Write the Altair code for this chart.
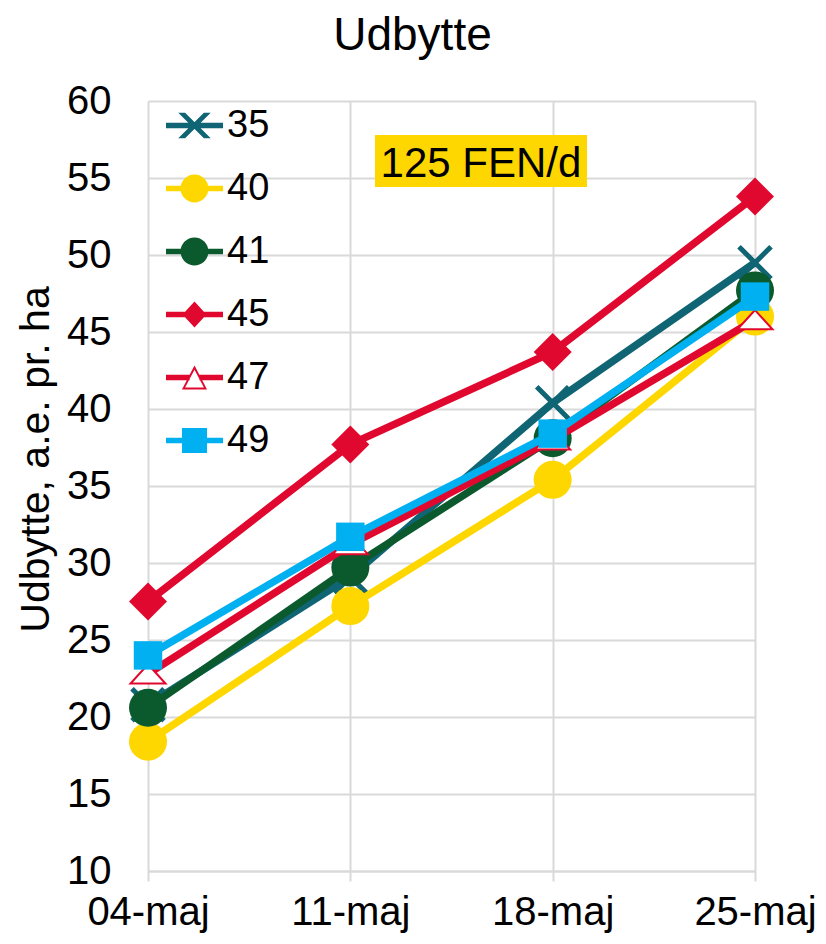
import altair as alt
import pandas as pd

dates = ["04-maj", "11-maj", "18-maj", "25-maj"]
series = ["35", "40", "41", "45", "47", "49"]
v35 = [20.8, 29.1, 40.4, 49.5]
v40 = [18.4, 27.2, 35.4, 46.0]
v41 = [20.6, 29.7, 38.1, 47.7]
v45 = [27.5, 37.7, 43.7, 53.8]
v47 = [22.8, 31.2, 38.0, 45.8]
v49 = [24.0, 31.7, 38.4, 47.3]
values = {"35": v35, "40": v40, "41": v41, "45": v45, "47": v47, "49": v49}
y_ticks = [10, 15, 20, 25, 30, 35, 40, 45, 50, 55, 60]
title_text = "Udbytte"
y_title = "Udbytte, a.e. pr. ha"
note_text = "125 FEN/d"

colors = {"35": "#0F6573", "40": "#FFD700", "41": "#0B5A2E",
          "45": "#E1082F", "47": "#E1082F", "49": "#00B0F0"}

FONT = "Liberation Sans"

rows = []
for s in series:
    for d, v in zip(dates, values[s]):
        rows.append({"date": d, "series": s, "value": v})
df = pd.DataFrame(rows)

x_enc = alt.X("date:O", sort=dates, scale=alt.Scale(type="point", padding=0),
              axis=alt.Axis(title=None, labelAngle=0, labelFontSize=40, labelFont=FONT,
                            labelColor="black", grid=True, gridColor="#D9D9D9", gridWidth=2,
                            domainColor="#D9D9D9", domainWidth=2, tickColor="#D9D9D9",
                            tickWidth=2, tickSize=10, labelPadding=11))
y_enc = alt.Y("value:Q", scale=alt.Scale(domain=[10, 60], nice=False, zero=False),
              axis=alt.Axis(values=y_ticks, title=y_title, titleFontSize=41, titleFont=FONT,
                            titleFontWeight="normal", titleColor="black", titleAngle=-90,
                            titleX=-100, titleY=358, titleAlign="center",
                            titleBaseline="alphabetic",
                            labelFontSize=40, labelFont=FONT, labelColor="black",
                            labelPadding=37, ticks=False, domain=False,
                            grid=True, gridColor="#D9D9D9", gridWidth=2))

base = alt.Chart(df).encode(x=x_enc, y=y_enc)

shapes_plot = {
    "35": dict(shape="M-1,-1L1,1M-1,1L1,-1", filled=False, stroke=colors["35"], strokeWidth=5, size=1024),
    "40": dict(shape="circle", filled=True, color=colors["40"], size=1444),
    "41": dict(shape="circle", filled=True, color=colors["41"], size=1444),
    "45": dict(shape="diamond", filled=True, color=colors["45"], size=1444),
    "47": dict(shape="M0,-0.55L1,0.55L-1,0.55Z", filled=False, fill="white", stroke=colors["47"], strokeWidth=2, size=1225),
    "49": dict(shape="square", filled=True, color=colors["49"], size=810),
}

layers = []
for s in series:
    sub = base.transform_filter(alt.datum.series == s)
    layers.append(sub.mark_line(color=colors[s], strokeWidth=7.5, strokeJoin="round"))
    layers.append(sub.mark_point(opacity=1, **shapes_plot[s]))

# legend symbols: line with marker (unit = half symbol width)
rect = "M-1,-0.1H1V0.1H-1Z"
legend_paths = [
    rect + "M-0.57,-0.45L-0.33,-0.45L0.57,0.45L0.33,0.45Z M0.33,-0.45L0.57,-0.45L-0.33,0.45L-0.57,0.45Z",
    rect + "M0.49,0A0.49,0.49,0,1,1,-0.49,0A0.49,0.49,0,1,1,0.49,0Z",
    rect + "M0.49,0A0.49,0.49,0,1,1,-0.49,0A0.49,0.49,0,1,1,0.49,0Z",
    rect + "M0,-0.46L0.42,0L0,0.46L-0.42,0Z",
    "M-1,-0.1H-0.17V0.1H-1Z M0.17,-0.1H1V0.1H0.17Z M0,-0.42L0.44,0.42L-0.44,0.42Z M0,-0.27L-0.33,0.35L0.33,0.35Z",
    rect + "M-0.44,-0.44H0.44V0.44H-0.44Z",
]
leg = alt.Legend(title=None, orient="none", legendX=18, legendY=-4, padding=0,
                 symbolSize=3249, symbolOpacity=1, symbolStrokeWidth=0,
                 labelFontSize=38, labelFont=FONT, labelColor="black",
                 labelOffset=4, rowPadding=15, labelBaseline="middle")
legend_layer = base.mark_point(filled=True, opacity=0).encode(
    color=alt.Color("series:N", sort=series,
                    scale=alt.Scale(domain=series, range=[colors[s] for s in series]),
                    legend=leg),
    shape=alt.Shape("series:N", sort=series,
                    scale=alt.Scale(domain=series, range=legend_paths),
                    legend=leg),
)

note_df = pd.DataFrame({"label": [note_text]})
note_box = alt.Chart(note_df).mark_rect(color="#FFD700").encode(
    x=alt.value(227), x2=alt.value(439), y=alt.value(34), y2=alt.value(86))
note_txt = alt.Chart(note_df).mark_text(fontSize=42, font=FONT, color="black",
                                        baseline="alphabetic", align="center").encode(
    x=alt.value(333), y=alt.value(76), text="label:N")

chart = alt.layer(note_box, note_txt, *layers, legend_layer).properties(
    width=607, height=770,
    autosize=alt.AutoSizeParams(type="none"),
    padding={"left": 140, "top": 93, "right": 63, "bottom": 65},
    title=alt.TitleParams(title_text, fontSize=46, font=FONT, fontWeight="normal",
                          color="black", anchor="middle", dx=-39, dy=45, offset=30,
                          baseline="alphabetic"),
).configure_view(stroke=None).configure(background="white")

chart.save("out.html", embed_options={"renderer": "svg", "actions": False})
